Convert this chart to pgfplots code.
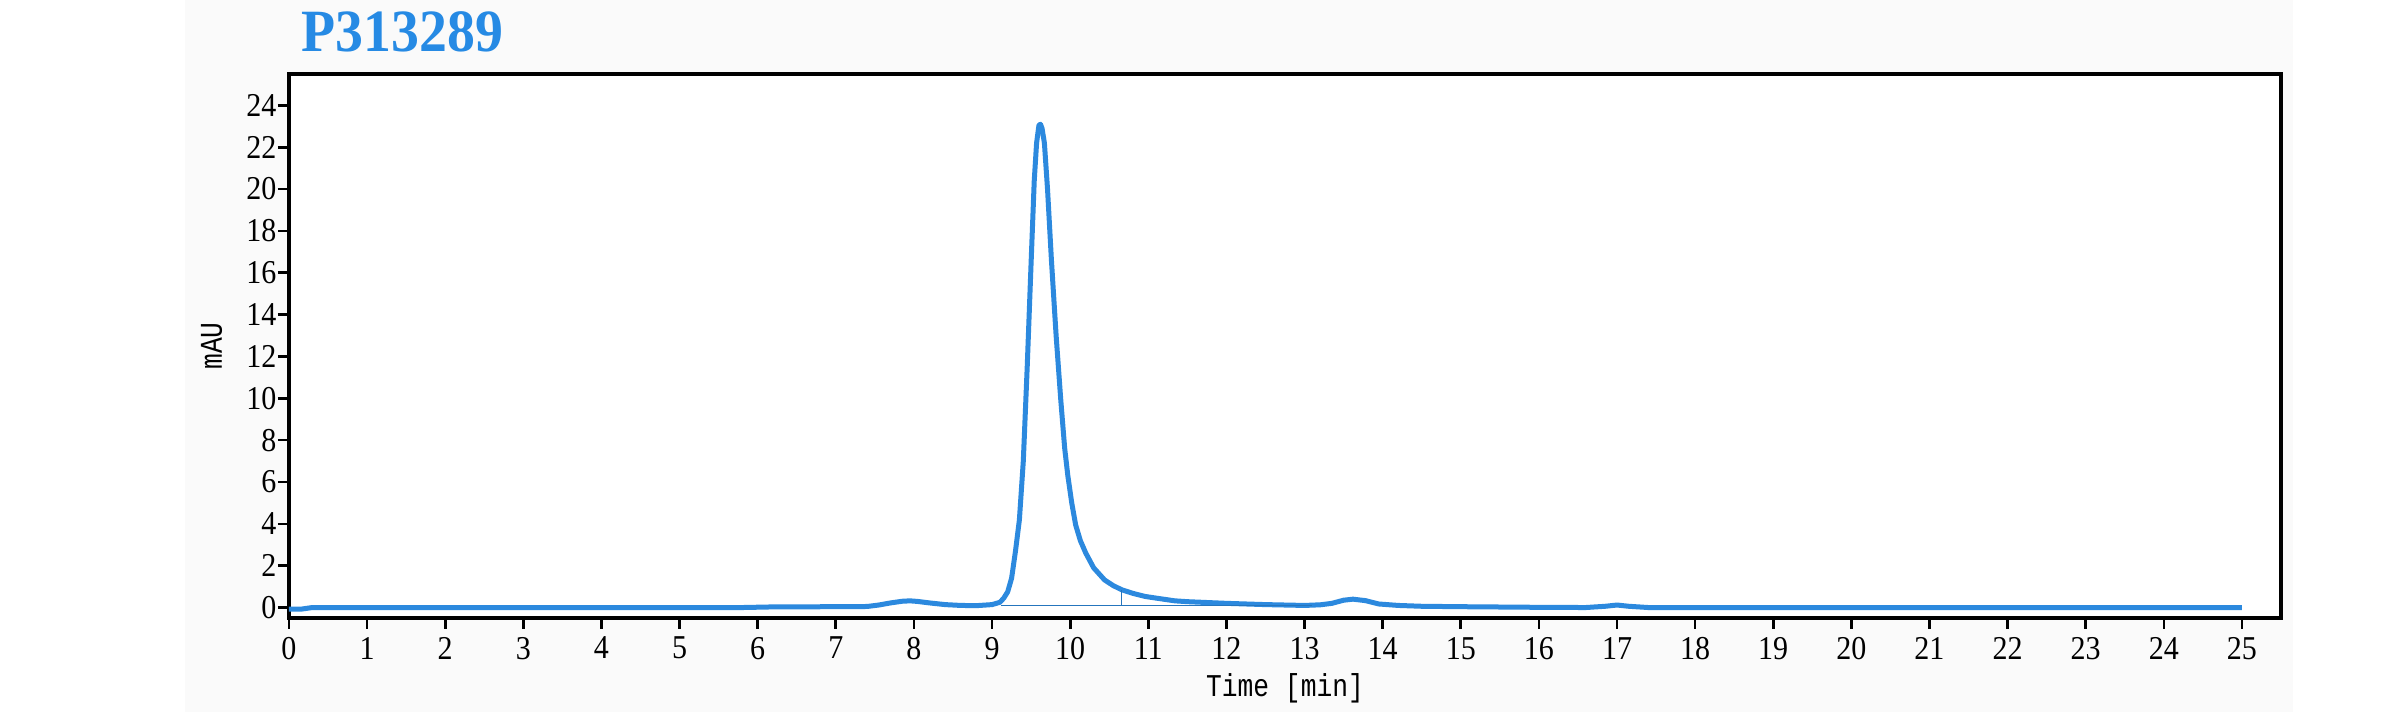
\documentclass[border=0pt]{standalone}
\usepackage{pgfplots}
\pgfplotsset{compat=1.18}
\usepackage{fontspec}
\setmainfont{Liberation Serif}
\newfontfamily\monofont[FakeStretch=0.83]{Liberation Mono}
\newfontfamily\tickfont[FakeStretch=0.9]{Liberation Serif}
\newfontfamily\titlefont[FakeStretch=0.93]{Liberation Serif}
\definecolor{curveblue}{RGB}{44,137,222}
\definecolor{titleblue}{RGB}{38,138,228}
\definecolor{bggray}{RGB}{250,250,250}
\begin{document}
\begin{tikzpicture}
\path[use as bounding box] (-86.7pt,-28.2pt) rectangle (627.9pt,185.4pt);
\fill[bggray] (-31.2pt,-28.2pt) rectangle (601.2pt,185.4pt);
\begin{axis}[
  at={(0pt,0pt)}, anchor=south west,
  scale only axis, width=597.6pt, height=163.2pt,
  xmin=0, xmax=25.5, ymin=-0.5, ymax=25.5,
  xtick={0,1,...,25}, ytick={0,2,...,24},
  axis background/.style={fill=white},
  axis line style={line width=1pt, black},
  tick align=outside, tick pos=left,
  major tick length=3.3pt,
  every tick/.style={black, line width=0.8pt},
  /pgf/number format/assume math mode=true,
  tick label style={font=\tickfont\fontsize{10}{12}\selectfont},
  xticklabel style={inner sep=1pt, yshift=-1.2pt},
  yticklabel style={inner sep=0pt, xshift=-0.3pt},
  xlabel={Time [min]}, ylabel={mAU},
  label style={font=\monofont\fontsize{9.5}{11}\selectfont},
  xlabel style={at={(axis description cs:0.5,-0.1287)}, anchor=center},
  ylabel style={at={(axis description cs:-0.0388,0.5)}, anchor=center},
  clip=true,
]
\addplot[curveblue, line width=1.5pt, line join=round] coordinates {
(0,-0.08) (0.15,-0.08) (0.3,0.0) (1,0) (2,0) (3,0) (4,0) (5,0) (5.8,0.0)
(6.2,0.03) (7.0,0.04) (7.4,0.05) (7.55,0.12) (7.7,0.22) (7.85,0.3) (7.95,0.32)
(8.05,0.29) (8.2,0.22) (8.4,0.14) (8.6,0.1) (8.8,0.09) (9.0,0.14) (9.1,0.25)
(9.15,0.45) (9.2,0.75) (9.25,1.4) (9.3,2.7) (9.35,4.2) (9.4,7.0) (9.45,11.5)
(9.5,16.5) (9.54,20.4) (9.57,22.2) (9.6,23.05) (9.62,23.1) (9.64,22.9)
(9.67,22.2) (9.71,20.0) (9.76,16.6) (9.82,13.0) (9.88,9.9) (9.93,7.6)
(9.97,6.3) (10.02,5.0) (10.07,3.95) (10.13,3.2) (10.2,2.6) (10.3,1.9)
(10.44,1.32) (10.55,1.05) (10.66,0.85) (10.8,0.68) (10.96,0.53) (11.1,0.45)
(11.34,0.32) (11.5,0.28) (12,0.2) (12.5,0.14) (13,0.1) (13.2,0.13)
(13.35,0.2) (13.5,0.35) (13.62,0.4) (13.78,0.33) (13.95,0.17) (14.2,0.1)
(14.5,0.06) (15,0.04) (16,0.01) (16.6,0.0) (16.85,0.06) (17.0,0.12)
(17.15,0.06) (17.4,0.0) (18,0) (20,0) (22,0) (25,0)
};
\addplot[curveblue!85!black, line width=0.4pt] coordinates {(9.12,0.09) (13.1,0.09)};
\addplot[curveblue!85!black, line width=0.4pt] coordinates {(10.66,0.09) (10.66,0.85)};
\end{axis}
\node[anchor=base west, inner sep=0pt, text=titleblue, font=\titlefont\bfseries\fontsize{18}{20}\selectfont] at (3.6pt,169.8pt) {P313289};
\end{tikzpicture}
\end{document}
